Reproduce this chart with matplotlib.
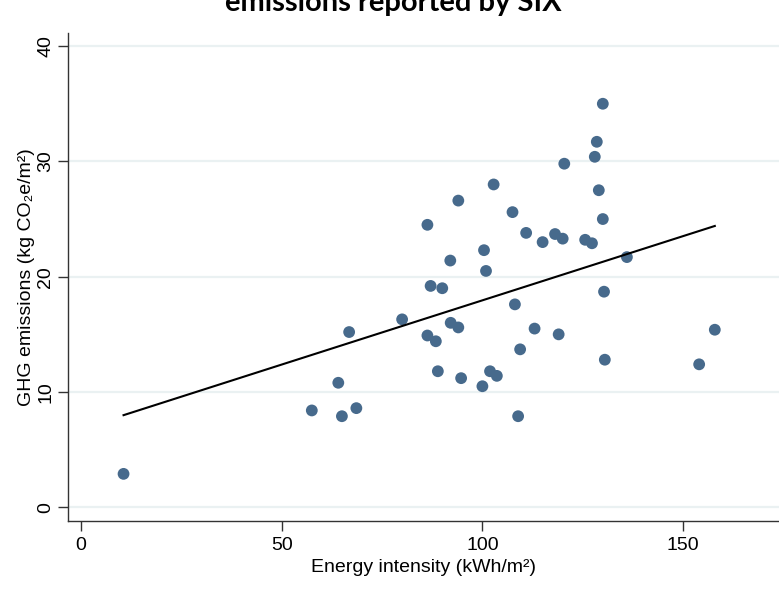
import numpy as np
import matplotlib
matplotlib.use("Agg")
import matplotlib.pyplot as plt

# Data
energy_intensity = [130.0, 128.5, 128.0, 120.4, 102.8, 129.0, 94.0, 107.5, 86.3, 130.0,
                    110.9, 115.0, 118.1, 120.0, 125.6, 127.3, 136.0, 100.4, 92.0, 100.9,
                    87.1, 90.0, 130.3, 108.1, 80.0, 66.8, 86.3, 88.4, 92.1, 94.0,
                    113.0, 119.0, 109.4, 130.5, 88.9, 94.7, 101.9, 103.6, 100.0, 64.1,
                    57.5, 65.0, 68.6, 108.9, 10.6, 157.9, 154.0]
ghg_emissions = [35.0, 31.7, 30.4, 29.8, 28.0, 27.5, 26.6, 25.6, 24.5, 25.0,
                 23.8, 23.0, 23.7, 23.3, 23.2, 22.9, 21.7, 22.3, 21.4, 20.5,
                 19.2, 19.0, 18.7, 17.6, 16.3, 15.2, 14.9, 14.4, 16.0, 15.6,
                 15.5, 15.0, 13.7, 12.8, 11.8, 11.2, 11.8, 11.4, 10.5, 10.8,
                 8.4, 7.9, 8.6, 7.9, 2.9, 15.4, 12.4]
# Linear fit line as shown in the reference
fit_intercept = 6.81
fit_slope = 0.1114
x_ticks = [0, 50, 100, 150]
y_ticks = [0, 10, 20, 30, 40]

title_text = "emissions reported by SIX"
x_label = "Energy intensity (kWh/m\u00b2)"
y_label = "GHG emissions (kg CO\u2082e/m\u00b2)"

plt.rcParams['font.family'] = ['Liberation Sans', 'DejaVu Sans']

W, H = 779, 599
fig = plt.figure(figsize=(W / 100, H / 100), dpi=100)
ax = fig.add_axes([68.3 / W, 1 - 520.7 / H, 1 - 68.3 / W, (520.7 - 33) / H])

x0_px, xs = 81.0, 4.014
y0_px, ys = 507.3, 11.53
ax.set_xlim((68.3 - x0_px) / xs, (W - x0_px) / xs)
ax.set_ylim((y0_px - 520.7) / ys, (y0_px - 33) / ys)

for yv in y_ticks:
    ax.axhline(yv, color='#eaf1f2', lw=1.6, zorder=0)

xa = np.array(energy_intensity)
ya = np.array(ghg_emissions)
ax.scatter(xa, ya, s=72, color='#476a8c', edgecolors='none', zorder=3)

xf = np.array([xa.min(), xa.max()])
ax.plot(xf, fit_intercept + fit_slope * xf, color='black', lw=1.5, zorder=4)

ax.set_xticks(x_ticks)
ax.set_yticks(y_ticks)
ax.tick_params(axis='both', direction='out', length=7, width=1, color='#333333',
               labelsize=14, pad=5)
ax.tick_params(axis='y', pad=3)
for lab in ax.get_yticklabels():
    lab.set_rotation(90)
    lab.set_va('center')

for s in ['top', 'right']:
    ax.spines[s].set_visible(False)
for s in ['left', 'bottom']:
    ax.spines[s].set_color('#333333')
    ax.spines[s].set_linewidth(1.0)

ax.set_xlabel(x_label, fontsize=14, labelpad=3)
ax.set_ylabel(y_label, fontsize=14, labelpad=2)

fig.text(393 / W, 1 - 11 / H, title_text, ha='center', va='baseline',
         fontsize=21, fontweight='bold', family=['Lato', 'DejaVu Sans'])

fig.savefig("out.png", dpi=100)
